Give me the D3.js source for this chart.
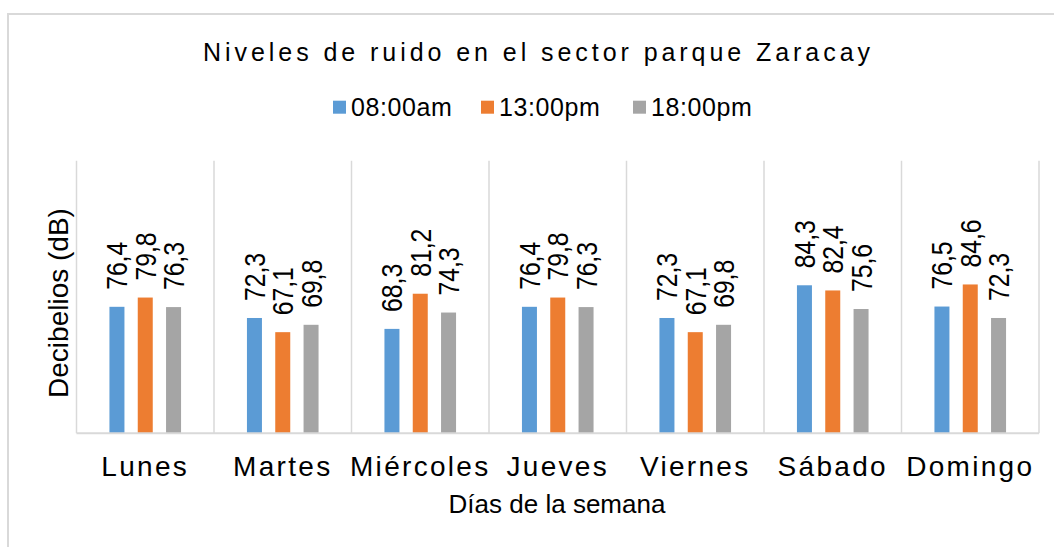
<!DOCTYPE html>
<html>
<head>
<meta charset="utf-8">
<script src="https://cdn.jsdelivr.net/npm/d3@7"></script>
<style>
  body { margin: 0; background: #fff; }
  text { font-family: "Liberation Sans", Arial, sans-serif; fill: #000; }
</style>
</head>
<body>
<div id="chart"></div>
<script>
// chart values
const days = ["Lunes", "Martes", "Miércoles", "Jueves", "Viernes", "Sábado", "Domingo"];
const series = ["08:00am", "13:00pm", "18:00pm"];
const morning = [76.4, 72.3, 68.3, 76.4, 72.3, 84.3, 76.5];
const noon = [79.8, 67.1, 81.2, 79.8, 67.1, 82.4, 84.6];
const evening = [76.3, 69.8, 74.3, 76.3, 69.8, 75.6, 72.3];
const colors = ["#5b9bd5", "#ed7d31", "#a5a5a5"];

const width = 1054, height = 547;
const plot = {left: 76.5, right: 1039, top: 160.7, bottom: 433.3};

let svg = d3.select("#chart").append("svg")
    .attr("width", width)
    .attr("height", height);

// outer frame (only left and top edges are visible)
svg.append("rect")
    .attr("x", 8).attr("y", 14)
    .attr("width", 1200).attr("height", 700)
    .attr("fill", "none")
    .attr("stroke", "#d9d9d9")
    .attr("stroke-width", 2);

let x = d3.scaleBand()
    .domain(days)
    .range([plot.left, plot.right]);
let xs = d3.scaleBand()
    .domain(series)
    .range([0, x.bandwidth()])
    .paddingInner(0.47)
    .paddingOuter(1.164);
let y = d3.scaleLinear()
    .domain([30, 130])
    .range([plot.bottom, plot.top]);

// vertical grid lines at category edges
let edges = days.map(d => x(d)).concat([plot.right]);
svg.append("g").selectAll("line")
    .data(edges)
    .enter().append("line")
    .attr("x1", d => d).attr("x2", d => d)
    .attr("y1", plot.top).attr("y2", plot.bottom)
    .attr("stroke", "#d9d9d9")
    .attr("stroke-width", 1.5);

// bars
let rows = [];
days.forEach(function(d, i) {
    rows.push({day: d, s: series[0], v: morning[i], c: colors[0]});
    rows.push({day: d, s: series[1], v: noon[i], c: colors[1]});
    rows.push({day: d, s: series[2], v: evening[i], c: colors[2]});
});

svg.append("g").selectAll("rect")
    .data(rows)
    .enter().append("rect")
    .attr("x", d => x(d.day) + xs(d.s))
    .attr("y", d => y(d.v))
    .attr("width", xs.bandwidth())
    .attr("height", d => y(30) - y(d.v))
    .attr("fill", d => d.c);

// baseline
svg.append("line")
    .attr("x1", plot.left).attr("x2", plot.right)
    .attr("y1", plot.bottom).attr("y2", plot.bottom)
    .attr("stroke", "#d9d9d9")
    .attr("stroke-width", 2);

// rotated value labels
svg.append("g").selectAll("text")
    .data(rows)
    .enter().append("text")
    .attr("transform", d => `translate(${x(d.day) + xs(d.s) + xs.bandwidth() / 2}, ${y(d.v) - 17}) rotate(-90)`)
    .attr("dy", "0.36em")
    .attr("textLength", 48)
    .attr("lengthAdjust", "spacingAndGlyphs")
    .style("font-size", "29px")
    .text(d => d.v.toFixed(1).replace(".", ","));

// category labels
svg.append("g").selectAll("text")
    .data(days)
    .enter().append("text")
    .attr("x", d => x(d) + x.bandwidth() / 2)
    .attr("y", 475.7)
    .style("text-anchor", "middle")
    .style("font-size", "28px")
    .style("letter-spacing", "2.3px")
    .text(d => d);

// x axis title
svg.append("text")
    .attr("x", 557).attr("y", 513)
    .style("text-anchor", "middle")
    .style("font-size", "26px")
    .text("Días de la semana");

// y axis title
svg.append("text")
    .attr("transform", "translate(67.7, 303) rotate(-90)")
    .style("text-anchor", "middle")
    .style("font-size", "28px")
    .text("Decibelios (dB)");

// chart title
svg.append("text")
    .attr("x", 536.5).attr("y", 60.7)
    .style("text-anchor", "middle")
    .style("font-size", "25px")
    .attr("textLength", 667)
    .attr("lengthAdjust", "spacing")
    .text("Niveles de ruido en el sector parque Zaracay");

// legend
let legend = svg.append("g");
let legendX = [333, 481, 633];
series.forEach(function(s, i) {
    legend.append("rect")
        .attr("x", legendX[i]).attr("y", 100.7)
        .attr("width", 13).attr("height", 13)
        .attr("fill", colors[i]);
    legend.append("text")
        .attr("x", legendX[i] + 18).attr("y", 116)
        .style("font-size", "25px")
        .style("letter-spacing", "0.6px")
        .text(s);
});
</script>
</body>
</html>
